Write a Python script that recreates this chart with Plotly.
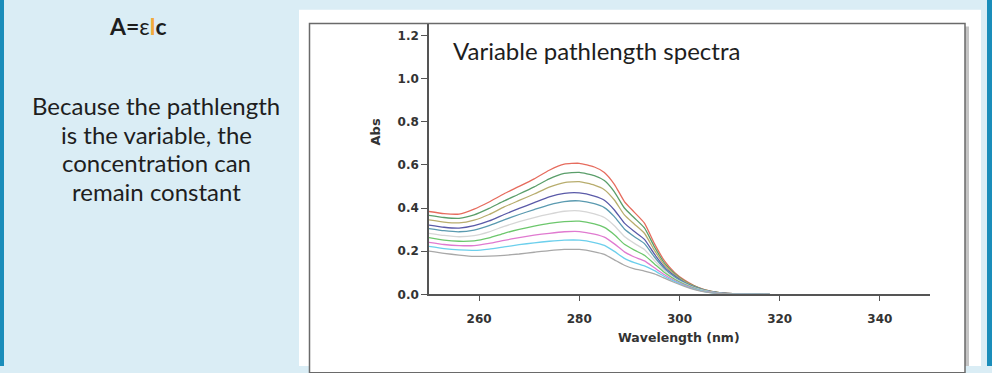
import plotly.graph_objects as go

# ---------------- data ----------------
wavelength = [250, 253, 256, 259, 262, 265, 268, 271, 274, 277, 280, 283, 285,
              287, 289, 291, 293, 295, 297, 299, 301, 303, 305, 308, 312, 318]

abs_red = [.384, .374, .372, .395, .428, .466, .500, .535, .575, .603, .607, .590, .565,
           .510, .430, .380, .330, .235, .155, .102, .066, .040, .022, .008, .002, 0]
abs_green = [.366, .356, .352, .368, .398, .433, .465, .498, .535, .560, .565, .550, .527,
             .475, .400, .354, .308, .220, .145, .097, .062, .038, .021, .008, .002, 0]
abs_olive = [.345, .335, .331, .344, .370, .405, .435, .465, .497, .518, .522, .506, .485,
             .437, .368, .325, .283, .204, .136, .092, .059, .036, .020, .007, .002, 0]
abs_blue = [.321, .311, .307, .318, .340, .370, .398, .425, .452, .468, .470, .455, .436,
            .391, .330, .291, .255, .186, .126, .086, .055, .034, .019, .007, .002, 0]
abs_teal = [.305, .295, .290, .298, .318, .345, .370, .393, .415, .430, .433, .420, .402,
            .360, .303, .267, .235, .173, .119, .081, .053, .032, .018, .006, .002, 0]
abs_lgray = [.283, .273, .267, .272, .290, .315, .337, .356, .372, .385, .387, .373, .356,
             .318, .268, .236, .208, .157, .110, .075, .050, .030, .017, .006, .002, 0]
abs_green2 = [.263, .251, .246, .248, .262, .283, .301, .316, .329, .337, .339, .326, .310,
              .276, .232, .205, .181, .141, .101, .070, .046, .028, .015, .005, .001, 0]
abs_pink = [.241, .231, .226, .226, .236, .250, .263, .274, .283, .290, .291, .279, .265,
            .234, .197, .173, .155, .123, .091, .064, .043, .026, .014, .005, .001, 0]
abs_cyan = [.222, .212, .206, .204, .210, .220, .230, .239, .246, .251, .251, .240, .227,
            .199, .167, .147, .132, .110, .083, .060, .040, .024, .013, .004, .001, 0]
abs_gray = [.200, .190, .182, .176, .177, .181, .187, .195, .203, .208, .208, .197, .185,
            .160, .135, .118, .108, .095, .075, .055, .037, .022, .012, .004, .001, 0]

series = [abs_red, abs_green, abs_olive, abs_blue, abs_teal,
          abs_lgray, abs_green2, abs_pink, abs_cyan, abs_gray]
colors = ["#e66c5e", "#5a9e6a", "#b8ad6e", "#5a5aa8", "#5a9ab0",
          "#d6d6d6", "#6cc76c", "#e07ad0", "#6ccfec", "#a8a8a8"]

x_ticks = [260, 280, 300, 320, 340]
y_ticks = [0.0, 0.2, 0.4, 0.6, 0.8, 1.0, 1.2]

title_text = "Variable pathlength spectra"
side_lines = ["Because the pathlength", "is the variable, the",
              "concentration can", "remain constant"]

# ---------------- layout helpers ----------------
W, H = 992, 373
def px(x):
    return x / W
def py(y):
    return 1 - y / H

fig = go.Figure()
for s, c in zip(series, colors):
    fig.add_trace(go.Scatter(x=wavelength, y=s, mode="lines",
                             line=dict(color=c, width=1.3, shape="spline", smoothing=0.5),
                             showlegend=False, hoverinfo="skip"))

shapes = [
    dict(type="rect", xref="paper", yref="paper", x0=px(0), x1=px(4), y0=0, y1=1,
         fillcolor="#1a8dba", line_width=0, layer="below"),
    dict(type="rect", xref="paper", yref="paper", x0=px(987), x1=px(992), y0=0, y1=1,
         fillcolor="#1a8dba", line_width=0, layer="below"),
    dict(type="rect", xref="paper", yref="paper", x0=px(299), x1=px(981), y0=0, y1=py(10),
         fillcolor="white", line_width=0, layer="below"),
    dict(type="rect", xref="paper", yref="paper", x0=px(965), x1=px(969), y0=0, y1=py(27),
         fillcolor="#c4c4c4", line_width=0, layer="below"),
    dict(type="rect", xref="paper", yref="paper", x0=px(309.5), x1=px(965), y0=py(380), y1=py(24),
         fillcolor="white", line=dict(color="#6a6a6a", width=1.5), layer="below"),
]

annotations = [
    dict(text=title_text, xref="paper", yref="paper", x=px(451), y=py(51),
         xanchor="left", yanchor="middle", showarrow=False,
         font=dict(family="Lato", size=24, color="#1e1e1e")),
    dict(text="<b>A=</b>ε<b><span style='color:#f2a93b'>l</span>c</b>",
         xref="paper", yref="paper", x=px(138), y=py(27),
         xanchor="center", yanchor="middle", showarrow=False,
         font=dict(family="Lato", size=23, color="#1e1e1e")),
    dict(text="<b>Abs</b>", xref="paper", yref="paper", x=px(375), y=py(135),
         xanchor="center", yanchor="middle", showarrow=False, textangle=-90,
         font=dict(family="DejaVu Sans", size=13, color="#333333")),
    dict(text="<b>Wavelength (nm)</b>", xref="paper", yref="paper", x=px(679), y=py(344),
         xanchor="center", yanchor="middle", showarrow=False,
         font=dict(family="DejaVu Sans", size=12.5, color="#333333")),
]
for i, line in enumerate(side_lines):
    annotations.append(dict(text=line, xref="paper", yref="paper",
                            x=px(156), y=py(108 + 29 * i),
                            xanchor="center", yanchor="middle", showarrow=False,
                            font=dict(family="Lato", size=24, color="#1e1e1e")))

axis_font = dict(family="DejaVu Sans", size=12, color="#333333", weight="bold")

fig.update_layout(
    width=W, height=H,
    margin=dict(l=0, r=0, t=0, b=0),
    paper_bgcolor="#daedf5",
    plot_bgcolor="rgba(0,0,0,0)",
    shapes=shapes,
    annotations=annotations,
    xaxis=dict(domain=[px(429), px(930)], range=[250, 350],
               tickvals=x_ticks, ticks="outside", ticklen=5, tickwidth=1.3,
               ticklabelstandoff=7,
               tickcolor="#555555", showline=True, linecolor="#555555", linewidth=1.5,
               showgrid=False, zeroline=False, tickfont=axis_font),
    yaxis=dict(domain=[py(300), py(24)], range=[0, 1.2545],
               tickvals=y_ticks, tickformat=".1f", ticks="outside", ticklen=6, tickwidth=1.3,
               tickcolor="#555555", showline=True, linecolor="#555555", linewidth=1.5,
               showgrid=False, zeroline=False, tickfont=axis_font),
)

fig.write_html("out.html")
